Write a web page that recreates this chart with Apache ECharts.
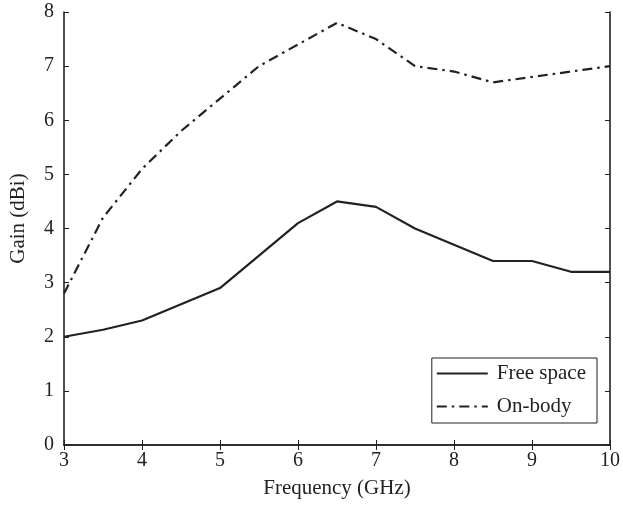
<!DOCTYPE html>
<html><head><meta charset="utf-8">
<script src="https://cdn.jsdelivr.net/npm/echarts@6/dist/echarts.min.js"></script>
<style>html,body{margin:0;padding:0;background:#fff}#c{width:623px;height:506px}</style>
</head><body><div id="c"></div>
<script>
const freqFree = [3, 3.5, 4, 5, 6, 6.5, 7, 7.5, 8, 8.5, 9, 9.5, 10];
const gainFree = [2.0, 2.13, 2.3, 2.9, 4.1, 4.5, 4.4, 4.0, 3.7, 3.4, 3.4, 3.2, 3.2];
const freqBody = [3, 3.5, 4, 4.5, 5, 5.5, 6, 6.5, 7, 7.5, 8, 8.5, 9, 9.5, 10];
const gainBody = [2.8, 4.2, 5.1, 5.8, 6.4, 7.0, 7.4, 7.8, 7.5, 7.0, 6.9, 6.7, 6.8, 6.9, 7.0];
const seriesNames = ['Free space', 'On-body'];
const xTitle = 'Frequency (GHz)';
const yTitle = 'Gain (dBi)';

const font = '"Liberation Serif", "DejaVu Serif", serif';
const fs = 20;
const chart = echarts.init(document.getElementById('c'));
const axBase = {
  axisLine: {show: true, lineStyle: {color: '#222', width: 1.6}},
  axisTick: {show: true, inside: true, length: 5, lineStyle: {color: '#222', width: 1}},
  splitLine: {show: false}
};
chart.setOption({
  animation: false,
  grid: {left: 62, right: 12, top: 12, bottom: 61, containLabel: false},
  legend: {
    orient: 'vertical', right: 26, top: 358, itemWidth: 51, itemHeight: 12, itemGap: 12,
    padding: [5, 11, 6, 4], borderColor: '#222', borderWidth: 1, backgroundColor: '#fff',
    itemStyle: {color: 'transparent', borderWidth: 0, opacity: 0},
    textStyle: {fontFamily: font, fontSize: 21, color: '#222', padding: [0, 0, 0, 4]},
    data: seriesNames
  },
  xAxis: [
    Object.assign({type: 'value', min: 3, max: 10, interval: 1, position: 'bottom',
      name: xTitle, nameLocation: 'middle', nameGap: 33,
      nameTextStyle: {fontFamily: font, fontSize: 21, color: '#222'},
      axisLabel: {fontFamily: font, fontSize: fs, color: '#222', margin: 6}}, axBase),
    Object.assign({type: 'value', min: 3, max: 10, interval: 1, position: 'top',
      axisLabel: {show: false}}, axBase)
  ],
  yAxis: [
    Object.assign({type: 'value', min: 0, max: 8, interval: 1, position: 'left',
      name: yTitle, nameLocation: 'middle', nameGap: 35, nameRotate: 90,
      nameTextStyle: {fontFamily: font, fontSize: 21, color: '#222', padding: [0, 0, 0, 20]},
      axisLabel: {fontFamily: font, fontSize: fs, color: '#222', margin: 10}}, axBase),
    Object.assign({type: 'value', min: 0, max: 8, interval: 1, position: 'right',
      axisLabel: {show: false}}, axBase)
  ],
  series: [
    {name: seriesNames[0], type: 'line', showSymbol: false, symbol: 'none',
      data: freqFree.map((f, i) => [f, gainFree[i]]),
      lineStyle: {color: '#222', width: 2.2, type: 'solid'}, itemStyle: {color: '#222'}},
    {name: seriesNames[1], type: 'line', showSymbol: false, symbol: 'none',
      data: freqBody.map((f, i) => [f, gainBody[i]]),
      lineStyle: {color: '#222', width: 2.2, type: [10, 5, 2.5, 5]}, itemStyle: {color: '#222'}}
  ]
});
</script></body></html>
